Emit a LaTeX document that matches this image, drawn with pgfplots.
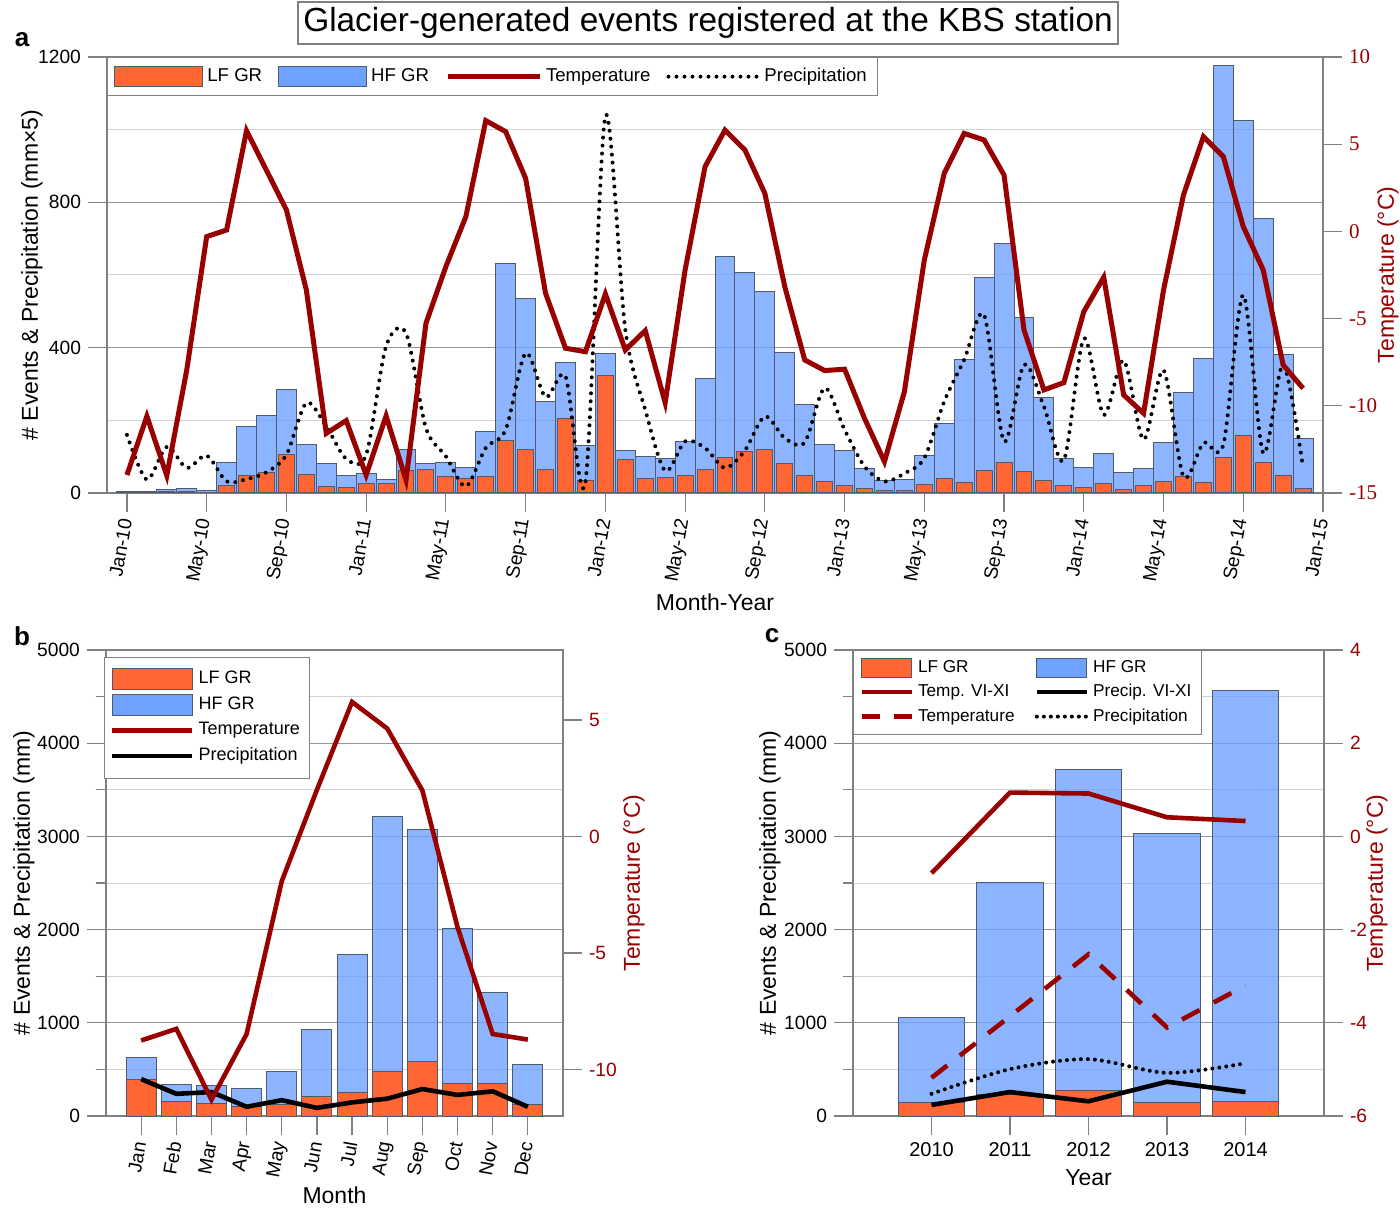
\documentclass[border=0pt]{standalone}
\usepackage{fontspec}
\setmainfont{Liberation Sans}
\newfontfamily\serifnum{Liberation Serif}
\usepackage{pgfplots}
\usepackage{pgfplotstable}
\pgfplotsset{compat=1.18}
\definecolor{lfc}{RGB}{255,102,51}
\definecolor{hfc}{RGB}{111,161,255}
\definecolor{tc}{RGB}{153,0,0}
\definecolor{edgec}{RGB}{80,90,110}
\definecolor{axc}{RGB}{128,128,128}
\definecolor{gmaj}{RGB}{150,150,150}
\definecolor{gmin}{RGB}{210,210,210}

\pgfplotstableread{
m lf tot pr t
0 3 5 160 -13.97
1 3 5 37 -10.6
2 5 9 127 -14.0
3 3 12 69 -7.95
4 0 7 103 -0.3
5 21 83 32 0.08
6 48 183 38 5.77
7 57 214 57 3.5
8 105 284 105 1.23
9 50 133 248 -3.36
10 18 80 183 -11.58
11 15 48 94 -10.85
12 27 53 105 -13.97
13 25 36 404 -10.58
14 61 119 440 -14.25
15 66 80 179 -5.27
16 46 84 101 -2.02
17 41 71 18 0.84
18 45 170 124 6.35
19 144 633 174 5.72
20 121 534 385 3.04
21 64 252 264 -3.55
22 204 358 321 -6.7
23 34 130 30 -6.9
24 323 384 1037 -3.59
25 92 117 450 -6.8
26 40 101 229 -5.69
27 44 94 61 -9.82
28 48 142 142 -2.21
29 66 314 124 3.71
30 98 650 69 5.81
31 113 606 117 4.67
32 119 554 211 2.18
33 81 387 151 -3.17
34 48 243 139 -7.37
35 32 133 289 -7.98
36 20 117 174 -7.9
37 13 67 73 -10.72
38 7 34 32 -13.2
39 7 38 54 -9.19
40 23 103 96 -1.64
41 41 190 252 3.33
42 29 367 367 5.62
43 62 593 490 5.24
44 85 686 142 3.23
45 59 484 353 -5.65
46 34 264 238 -9.09
47 20 95 90 -8.67
48 15 71 425 -4.6
49 26 109 215 -2.63
50 9 57 365 -9.38
51 22 68 147 -10.43
52 32 138 338 -3.36
53 46 277 45 2.09
54 29 370 138 5.43
55 98 1177 133 4.29
56 158 1026 545 0.27
57 83 756 110 -2.21
58 48 381 353 -7.66
59 13 150 69 -9.0
}\dataA

\pgfplotstableread{
m lf tot pr t
1 388 633 396 -8.76
2 158 340 238 -8.26
3 131 325 257 -11.3
4 100 297 99 -8.48
5 125 475 170 -1.92
6 210 930 87 2.0
7 249 1738 146 5.77
8 475 3215 186 4.63
9 582 3076 289 1.97
10 344 2011 226 -3.9
11 352 1322 265 -8.48
12 119 558 99 -8.72
}\dataB

\pgfplotstableread{
y lf tot tvi t pvi p
0 146 1061 -0.79 -5.18 119 238
1 226 2510 0.94 -3.86 257 503
2 277 3717 0.92 -2.53 158 610
3 150 3032 0.41 -4.10 368 463
4 158 4569 0.33 -3.20 257 566
}\dataC

\pgfplotsset{
  base/.style={scale only axis, anchor=south west,
    /pgf/number format/assume math mode=true,
    /pgf/number format/1000 sep={},
    tick label style={font=\fontsize{9.6}{12}\selectfont},
    label style={font=\fontsize{11.5}{13}\selectfont},
    axis line style={axc, line width=0.6pt},
    tick style={axc, line width=0.6pt},
    tick align=outside,
    major tick length=9.5pt, minor tick length=5pt,
  },
  leftax/.style={base, xtick pos=bottom, ytick pos=left, ymajorgrids, yminorgrids,
    major grid style={gmaj, line width=0.5pt}, minor grid style={gmin, line width=0.5pt}},
  rightax/.style={base, axis x line=none, axis y line*=right, ytick pos=right,
    yticklabel style={text=tc}},
  hfbar/.style={ybar, bar shift=0pt, fill=hfc, fill opacity=0.8, draw=edgec, line width=0.5pt},
  lfbar/.style={ybar, bar shift=0pt, fill=lfc, draw=edgec, line width=0.5pt},
}
\newcommand{\legrect}[4]{\addlegendimage{legend image code/.code={\draw[fill=#1,draw=edgec,line width=0.5pt] (0pt,-#3) rectangle (#2,#3);}}\addlegendentry{#4}}
\newcommand{\legline}[3]{\addlegendimage{legend image code/.code={\draw[#1] (0pt,0pt) -- (#2,0pt);}}\addlegendentry{#3}}
\newcommand{\lab}{\fontsize{11.5}{13}\selectfont}

\begin{document}
\begin{tikzpicture}
% ---------------- panel a ----------------
\begin{axis}[leftax, at={(53.5pt,358.5pt)}, width=608pt, height=218pt,
  xmin=-1, xmax=60, ymin=0, ymax=1200,
  xtick={0,4,...,60},
  xticklabels={Jan-10,May-10,Sep-10,Jan-11,May-11,Sep-11,Jan-12,May-12,Sep-12,Jan-13,May-13,Sep-13,Jan-14,May-14,Sep-14,Jan-15},
  xticklabel style={rotate=80, anchor=east},
  ytick={0,400,800,1200}, minor ytick={200,600,1000}, minor tick length=0pt,
  xlabel={Month-Year}, xlabel style={yshift=2pt}]
\addplot[hfbar, bar width=1] table[x=m,y=tot]{\dataA};
\addplot[lfbar, bar width=0.8] table[x=m,y=lf]{\dataA};
\addplot[black, line width=2pt, dash pattern=on 0pt off 4pt, line cap=round, smooth, tension=0.5] table[x=m,y=pr]{\dataA};
\end{axis}
\begin{axis}[rightax, at={(53.5pt,358.5pt)}, width=608pt, height=218pt,
  xmin=-1, xmax=60, ymin=-15, ymax=10, ytick={-15,-10,...,10},
  yticklabel style={font=\serifnum\fontsize{10.5}{12}\selectfont},
  legend style={at={(0,1)}, anchor=north west, draw=axc, fill=white,
    font=\fontsize{9.3}{11}\selectfont, legend columns=4,
    /tikz/every even column/.append style={column sep=6pt}, inner sep=3.5pt},
  legend cell align=left]
\legrect{lfc}{44pt}{5pt}{LF GR}
\legrect{hfc}{44pt}{5pt}{HF GR}
\legline{tc, line width=2.5pt}{46pt}{Temperature}
\legline{black, line width=2pt, dash pattern=on 0pt off 4pt, line cap=round}{45pt}{Precipitation}
\addplot[tc, line width=2.5pt, forget plot] table[x=m,y=t]{\dataA};
\end{axis}

% ---------------- panel b ----------------
\begin{axis}[leftax, at={(53pt,47pt)}, width=228.5pt, height=233pt,
  xmin=0, xmax=13, ymin=0, ymax=5000,
  xtick={1,...,12},
  xticklabels={Jan,Feb,Mar,Apr,May,Jun,Jul,Aug,Sep,Oct,Nov,Dec},
  xticklabel style={rotate=80, anchor=east},
  ytick={0,1000,...,5000}, minor ytick={500,1500,...,4500},
  xlabel={Month}, xlabel style={yshift=3.5pt}]
\addplot[hfbar, bar width=0.85] table[x=m,y=tot]{\dataB};
\addplot[lfbar, bar width=0.85] table[x=m,y=lf]{\dataB};
\addplot[black, line width=2.3pt] table[x=m,y=pr]{\dataB};
\end{axis}
\begin{axis}[rightax, at={(53pt,47pt)}, width=228.5pt, height=233pt,
  xmin=0, xmax=13, ymin=-12, ymax=8, ytick={-10,-5,0,5},
  legend style={at={(-0.005,0.985)}, anchor=north west, draw=axc, fill=white,
    font=\fontsize{9}{11}\selectfont, row sep=1pt, inner xsep=3pt, inner ysep=5pt},
  legend cell align=left]
\legrect{lfc}{40pt}{5.2pt}{LF GR}
\legrect{hfc}{40pt}{5.2pt}{HF GR}
\legline{tc, line width=2.3pt}{40pt}{Temperature}
\legline{black, line width=2.3pt}{40pt}{Precipitation}
\addplot[tc, line width=2.3pt, forget plot] table[x=m,y=t]{\dataB};
\end{axis}

% ---------------- panel c ----------------
\begin{axis}[leftax, at={(426.5pt,47pt)}, width=235.5pt, height=233pt,
  xmin=-1, xmax=5, ymin=0, ymax=5000,
  xtick={0,...,4}, xticklabels={2010,2011,2012,2013,2014},
  xticklabel style={font=\fontsize{10}{12}\selectfont},
  ytick={0,1000,...,5000}, minor ytick={500,1500,...,4500},
  xlabel={Year}]
\addplot[hfbar, bar width=0.85] table[x=y,y=tot]{\dataC};
\addplot[lfbar, bar width=0.85] table[x=y,y=lf]{\dataC};
\addplot[black, line width=2.3pt] table[x=y,y=pvi]{\dataC};
\addplot[black, line width=2pt, dash pattern=on 0pt off 3.5pt, line cap=round, smooth] table[x=y,y=p]{\dataC};
\end{axis}
\begin{axis}[rightax, at={(426.5pt,47pt)}, width=235.5pt, height=233pt,
  xmin=-1, xmax=5, ymin=-6, ymax=4, ytick={-6,-4,...,4},
  legend style={at={(0,1)}, anchor=north west, draw=axc, fill=white,
    font=\fontsize{8.6}{10}\selectfont, legend columns=2, row sep=0.5pt,
    /tikz/every even column/.append style={column sep=8pt}, inner sep=3pt},
  legend cell align=left]
\legrect{lfc}{25pt}{4.6pt}{LF GR}
\legrect{hfc}{25pt}{4.6pt}{HF GR}
\legline{tc, line width=2.3pt}{25pt}{Temp. VI-XI}
\legline{black, line width=2.3pt}{25pt}{Precip. VI-XI}
\legline{tc, line width=2.3pt, dash pattern=on 9pt off 7pt}{25pt}{Temperature}
\legline{black, line width=2pt, dash pattern=on 0pt off 3.5pt, line cap=round}{25pt}{Precipitation}
\addplot[tc, line width=2.3pt, forget plot] table[x=y,y=tvi]{\dataC};
\addplot[tc, line width=2.3pt, dash pattern=on 10pt off 8pt, forget plot] table[x=y,y=t]{\dataC};
\end{axis}

% axis labels
\node[rotate=90, font=\lab] at (16pt,467.5pt) {\# Events \& Precipitation (mm×5)};
\node[rotate=90, font=\lab, text=tc] at (694pt,467.5pt) {Temperature (°C)};
\node[rotate=90, font=\lab] at (12pt,163.5pt) {\# Events \& Precipitation (mm)};
\node[rotate=90, font=\lab, text=tc] at (317pt,163.5pt) {Temperature (°C)};
\node[rotate=90, font=\lab] at (385pt,163.5pt) {\# Events \& Precipitation (mm)};
\node[rotate=90, font=\lab, text=tc] at (688.5pt,163.5pt) {Temperature (°C)};
% titles and letters
\node[draw=axc, line width=0.6pt, fill=white, minimum width=410pt, minimum height=21pt, inner sep=2pt,
  font=\fontsize{16.7}{19}\selectfont] at (354pt,593.5pt) {Glacier-generated events registered at the KBS station};
\node[font=\fontsize{13}{15}\selectfont\bfseries] at (11pt,585pt) {a};
\node[font=\fontsize{13}{15}\selectfont\bfseries] at (11pt,287pt) {b};
\node[font=\fontsize{13}{15}\selectfont\bfseries] at (386pt,287pt) {c};
\pgfresetboundingbox
\useasboundingbox (0,0) rectangle (700pt,605pt);
\end{tikzpicture}
\end{document}
